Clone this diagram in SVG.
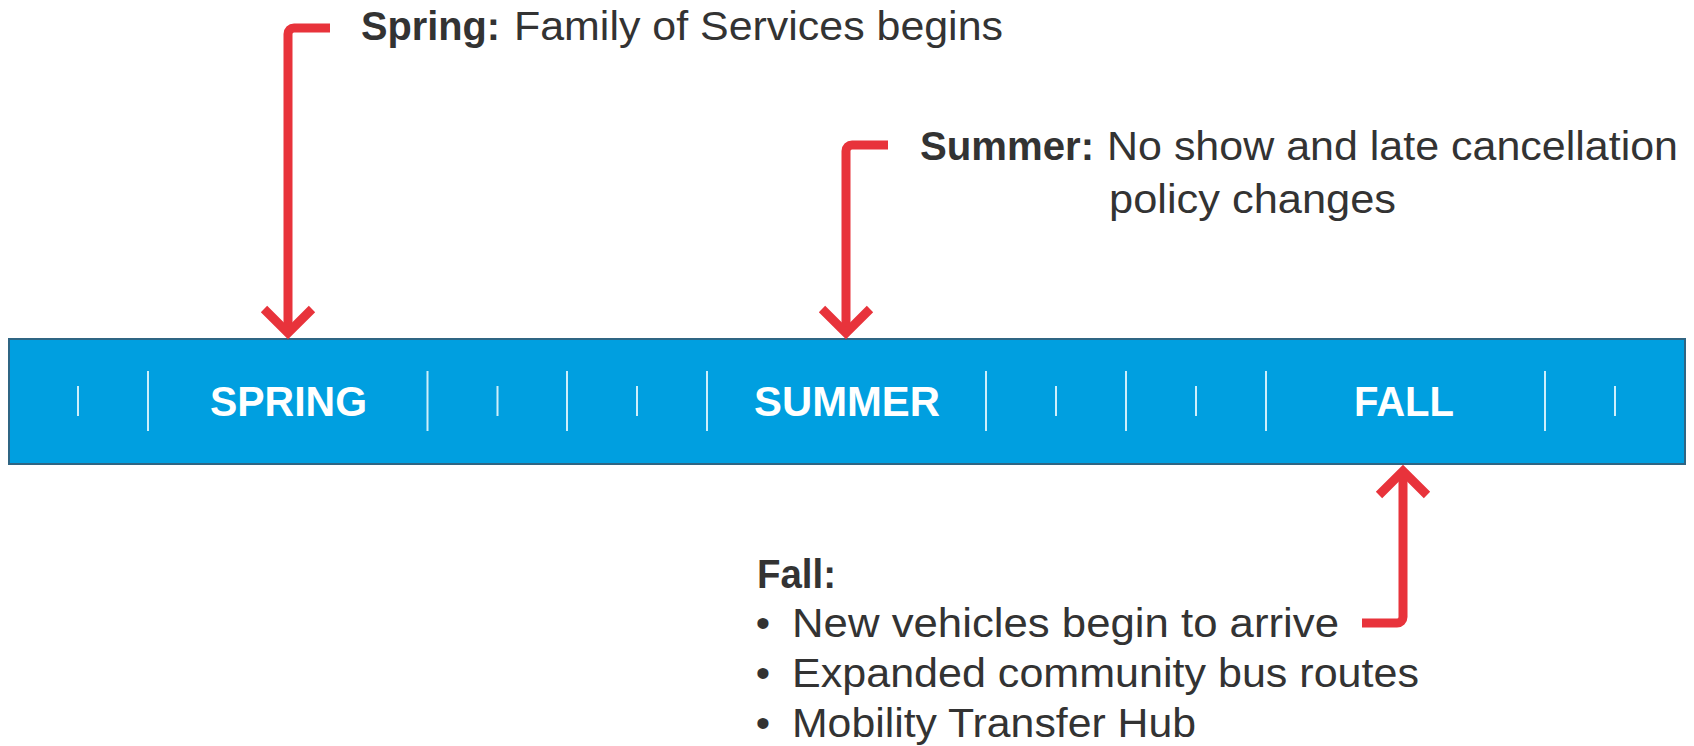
<svg xmlns="http://www.w3.org/2000/svg" width="1694" height="746" viewBox="0 0 1694 746">
  <defs>
    <style>
      .note { font-family: "Liberation Sans", Arial, Helvetica, sans-serif; font-size: 41px; fill: #333333; }
      .b { font-weight: bold; }
      .season { font-family: "Liberation Sans", Arial, Helvetica, sans-serif; font-size: 43px; font-weight: bold; fill: #ffffff; }
      .tick { stroke: #cdeffb; stroke-width: 2; }
      .arrow { fill: none; stroke: #e8333b; stroke-width: 9; stroke-linejoin: miter; stroke-miterlimit: 10; }
    </style>
  </defs>
  <rect width="1694" height="746" fill="#ffffff"/>

  <!-- timeline bar -->
  <g id="timeline">
    <rect x="9" y="339" width="1676" height="125" fill="#009fe0" stroke="#2f6583" stroke-width="2"/>
    <g id="ticks">
      <line class="tick" x1="78" y1="386" x2="78" y2="416"/>
      <line class="tick" x1="148" y1="371" x2="148" y2="431"/>
      <line class="tick" x1="427.5" y1="371" x2="427.5" y2="431"/>
      <line class="tick" x1="497.5" y1="386" x2="497.5" y2="416"/>
      <line class="tick" x1="567" y1="371" x2="567" y2="431"/>
      <line class="tick" x1="637" y1="386" x2="637" y2="416"/>
      <line class="tick" x1="707" y1="371" x2="707" y2="431"/>
      <line class="tick" x1="986" y1="371" x2="986" y2="431"/>
      <line class="tick" x1="1056" y1="386" x2="1056" y2="416"/>
      <line class="tick" x1="1126" y1="371" x2="1126" y2="431"/>
      <line class="tick" x1="1196" y1="386" x2="1196" y2="416"/>
      <line class="tick" x1="1266" y1="371" x2="1266" y2="431"/>
      <line class="tick" x1="1545" y1="371" x2="1545" y2="431"/>
      <line class="tick" x1="1615" y1="386" x2="1615" y2="416"/>
    </g>
    <text class="season" x="210" y="416" textLength="157" lengthAdjust="spacingAndGlyphs">SPRING</text>
    <text class="season" x="754" y="416" textLength="186" lengthAdjust="spacingAndGlyphs">SUMMER</text>
    <text class="season" x="1354" y="416" textLength="100" lengthAdjust="spacingAndGlyphs">FALL</text>
  </g>

  <!-- callout notes -->
  <g id="spring-note">
    <text class="note b" x="361" y="40" textLength="139" lengthAdjust="spacingAndGlyphs">Spring:</text>
    <text class="note" x="514" y="40" textLength="489" lengthAdjust="spacingAndGlyphs">Family of Services begins</text>
  </g>
  <g id="summer-note">
    <text class="note b" x="920" y="160" textLength="174" lengthAdjust="spacingAndGlyphs">Summer:</text>
    <text class="note" x="1107" y="160" textLength="571" lengthAdjust="spacingAndGlyphs">No show and late cancellation</text>
    <text class="note" x="1109" y="213" textLength="287" lengthAdjust="spacingAndGlyphs">policy changes</text>
  </g>
  <g id="fall-note">
    <text class="note b" x="757" y="588" textLength="79" lengthAdjust="spacingAndGlyphs">Fall:</text>
    <text class="note" x="763" y="637" text-anchor="middle">•</text>
    <text class="note" x="792" y="637" textLength="547" lengthAdjust="spacingAndGlyphs">New vehicles begin to arrive</text>
    <text class="note" x="763" y="687" text-anchor="middle">•</text>
    <text class="note" x="792" y="687" textLength="627" lengthAdjust="spacingAndGlyphs">Expanded community bus routes</text>
    <text class="note" x="763" y="737" text-anchor="middle">•</text>
    <text class="note" x="792" y="737" textLength="404" lengthAdjust="spacingAndGlyphs">Mobility Transfer Hub</text>
  </g>

  <!-- connectors -->
  <g id="connectors">
    <path class="arrow" d="M330,28 H294 A6,6 0 0 0 288,34 V333"/>
    <path class="arrow" d="M264,309 L288,333 L312,309"/>
    <path class="arrow" d="M888,145 H852 A6,6 0 0 0 846,151 V333"/>
    <path class="arrow" d="M822,309 L846,333 L870,309"/>
    <path class="arrow" d="M1362,623 H1397 A6,6 0 0 0 1403,617 V471"/>
    <path class="arrow" d="M1379,495 L1403,471 L1427,495"/>
  </g>
</svg>
